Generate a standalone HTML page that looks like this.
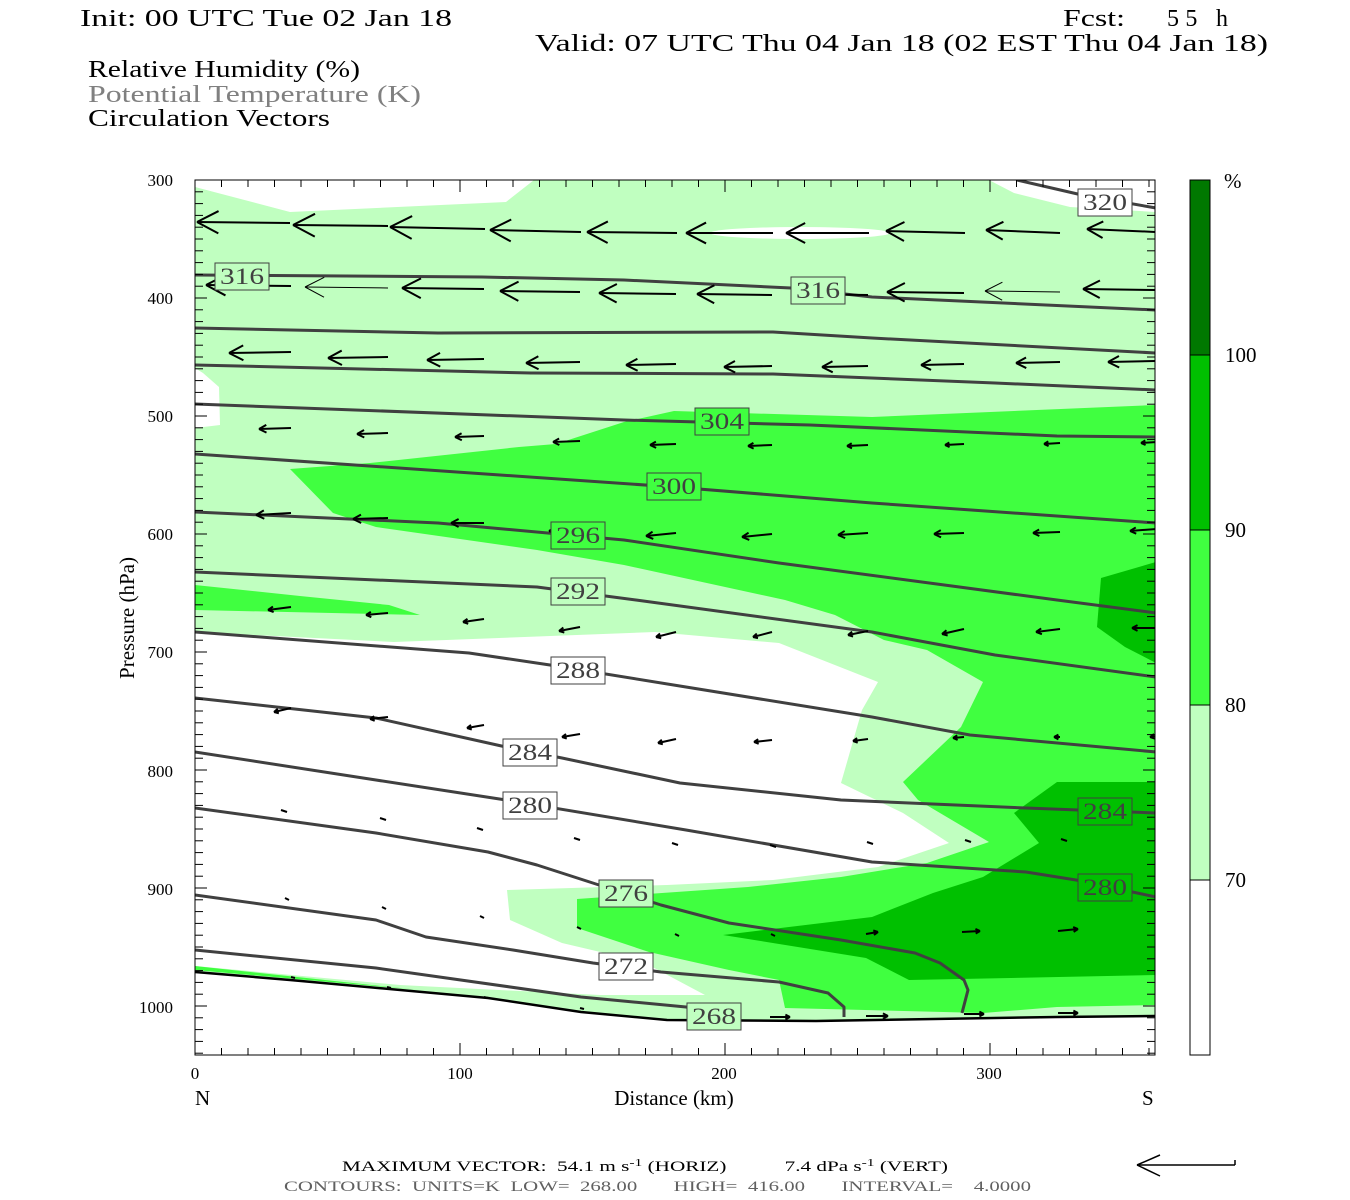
<!DOCTYPE html>
<html><head><meta charset="utf-8"><style>
html,body{margin:0;padding:0;background:#fff;}
svg{display:block;}
text{font-family:"Liberation Serif",serif;}
</style></head><body>
<svg id="s" width="1350" height="1200" viewBox="0 0 1350 1200" xmlns="http://www.w3.org/2000/svg">
<rect width="1350" height="1200" fill="#fff"/>
<g font-size="24" fill="#000">
<text x="80" y="26" textLength="372" lengthAdjust="spacingAndGlyphs">Init: 00 UTC Tue 02 Jan 18</text>
<text x="1063" y="26" textLength="62" lengthAdjust="spacingAndGlyphs">Fcst:</text>
<text x="1167" y="26" textLength="61" lengthAdjust="spacing">55 h</text>
<text x="535" y="51" textLength="733" lengthAdjust="spacingAndGlyphs">Valid: 07 UTC Thu 04 Jan 18 (02 EST Thu 04 Jan 18)</text>
<text x="88" y="77" textLength="272" lengthAdjust="spacingAndGlyphs">Relative Humidity (%)</text>
<text x="88" y="102" textLength="333" lengthAdjust="spacingAndGlyphs" fill="#808080">Potential Temperature (K)</text>
<text x="88" y="126" textLength="242" lengthAdjust="spacingAndGlyphs">Circulation Vectors</text>
</g>
<defs><clipPath id="pc"><rect x="195" y="180" width="960" height="875"/></clipPath></defs>
<g clip-path="url(#pc)">
<rect x="195" y="180" width="960" height="875" fill="#c0ffc0"/>
<g fill="#fff">
<polygon points="195,180 195,187 290,212 506,202 534,180"/>
<polygon points="989,180 1014,193 1070,207 1156,212 1156,180"/>
<ellipse cx="800" cy="233" rx="90" ry="6"/>
<polygon points="195,368 203,373 219,387 220,425 195,428"/>
<polygon points="195,632 394,642 655,632 779,643 878,682 862,710 841,783 903,813 949,843 878,867 773,880 667,885 507,890 510,920 562,943 643,962 705,995 600,995 400,985 195,966"/>
<polygon points="195,972 290,980 488,998 581,1012 667,1020 816,1021 1057,1017 1156,1016 1156,1056 195,1056"/>
</g>
<g fill="#40ff40">
<polygon points="1156,405 872,417 674,411 624,422 556,444 519,447 370,463 290,469 333,513 376,527 537,550 624,565 785,600 835,615 884,640 927,650 983,682 961,727 903,782 918,800 989,842 927,863 841,877 748,887 577,899 577,928 649,952 729,970 779,980 785,1008 983,1013 1057,1007 1156,1005"/>
<polygon points="195,585 300,596 389,605 420,615 195,610"/>
<polygon points="195,966 400,988 420,990 195,970"/>
</g>
<g fill="#00c000">
<polygon points="1101,578 1156,562 1156,663 1125,647 1097,627"/>
<polygon points="1057,782 1014,813 1039,843 983,877 933,893 872,917 723,935 804,948 866,958 909,980 1156,975 1156,782"/>
</g>
<g fill="none" stroke="#404040" stroke-width="3" stroke-linejoin="round">
<polyline points="1017,180 1082,195 1156,208"/>
<polyline points="195,275 482,277 624,280 791,288 872,297 1156,310"/>
<polyline points="195,328 438,333 773,332 872,338 1156,353"/>
<polyline points="195,365 531,373 773,374 995,383 1156,390"/>
<polyline points="195,404 624,420 810,425 1057,436 1156,437"/>
<polyline points="195,454 500,475 674,487 872,503 1156,523"/>
<polyline points="195,512 438,523 624,540 779,563 1057,600 1156,613"/>
<polyline points="195,572 537,587 636,600 872,632 995,655 1156,677"/>
<polyline points="195,632 469,653 550,665 686,687 872,717 970,735 1156,752"/>
<polyline points="195,698 376,718 506,747 562,758 680,783 841,800 1026,808 1156,813"/>
<polyline points="195,752 376,780 506,800 686,830 872,862 1026,872 1076,880 1156,897"/>
<polyline points="195,808 376,833 488,852 537,865 599,885 661,905 729,923 841,940 915,953 940,963 964,980 968,990 962,1013"/>
<polyline points="195,895 376,920 426,937 513,950 593,963 661,972 779,982 828,993 844,1007 844,1017"/>
<polyline points="195,950 376,968 581,997 686,1007 714,1016"/>
</g>
<polyline fill="none" stroke="#000" stroke-width="2.5" points="195,972 290,980 488,998 581,1012 667,1020 816,1021 1057,1017 1156,1016"/>
<g id="arrows" stroke="#000" fill="none" stroke-width="2"></g>
<g id="labs" font-size="23" fill="#404040" text-anchor="middle"></g>
</g>
<rect x="195" y="180" width="960" height="875" fill="none" stroke="#000" stroke-width="1"/>
<g id="ticks" stroke="#000" stroke-width="1"></g>
<g font-size="17" fill="#000" text-anchor="end">
<text x="173" y="186">300</text><text x="173" y="304">400</text><text x="173" y="422">500</text>
<text x="173" y="540">600</text><text x="173" y="658">700</text><text x="173" y="777">800</text>
<text x="173" y="895">900</text><text x="173" y="1013">1000</text>
</g>
<g font-size="17" fill="#000" text-anchor="middle">
<text x="195" y="1079">0</text><text x="460" y="1079">100</text><text x="724" y="1079">200</text><text x="989" y="1079">300</text>
</g>
<g font-size="21" fill="#000">
<text x="195" y="1105">N</text><text x="1142" y="1105">S</text>
<text x="674" y="1105" text-anchor="middle">Distance (km)</text>
<text transform="translate(134,618) rotate(-90)" text-anchor="middle">Pressure (hPa)</text>
</g>
<rect x="1190" y="880" width="20" height="175" fill="#fff" stroke="#000"/>
<rect x="1190" y="705" width="20" height="175" fill="#c0ffc0" stroke="#000"/>
<rect x="1190" y="530" width="20" height="175" fill="#40ff40" stroke="#000"/>
<rect x="1190" y="355" width="20" height="175" fill="#00c000" stroke="#000"/>
<rect x="1190" y="180" width="20" height="175" fill="#007800" stroke="#000"/>
<g font-size="21" fill="#000">
<text x="1224" y="188">%</text><text x="1225" y="362">100</text><text x="1225" y="537">90</text>
<text x="1225" y="712">80</text><text x="1225" y="887">70</text>
</g>
<text x="342" y="1171" font-size="15" fill="#000" textLength="606" lengthAdjust="spacingAndGlyphs" xml:space="preserve">MAXIMUM VECTOR:  54.1 m s<tspan dy="-5" font-size="11">-1</tspan><tspan dy="5"> (HORIZ)           7.4 dPa s</tspan><tspan dy="-5" font-size="11">-1</tspan><tspan dy="5"> (VERT)</tspan></text>
<text x="284" y="1191" font-size="15" fill="#606060" textLength="747" lengthAdjust="spacingAndGlyphs" xml:space="preserve">CONTOURS:  UNITS=K  LOW=  268.00       HIGH=  416.00       INTERVAL=    4.0000</text>
<g stroke="#000" stroke-width="1.5" fill="none">
<line x1="1137" y1="1165" x2="1235" y2="1165"/><line x1="1137" y1="1165" x2="1160" y2="1155"/><line x1="1137" y1="1165" x2="1160" y2="1176"/><line x1="1235" y1="1165" x2="1235" y2="1160"/>
</g>
</svg>
<script>
var NS="http://www.w3.org/2000/svg";
function el(p,t,a){var e=document.createElementNS(NS,t);for(var k in a)e.setAttribute(k,a[k]);p.appendChild(e);return e;}
var A=document.getElementById("arrows");
function arrow(hx,hy,tx,ty,sw){
 var dx=tx-hx,dy=ty-hy,len=Math.sqrt(dx*dx+dy*dy);if(len<0.1)return;
 var ux=dx/len,uy=dy/len,L=Math.max(5,Math.min(25,len*0.26));
 var s=sw||2;
 el(A,"line",{x1:tx,y1:ty,x2:hx,y2:hy,"stroke-width":s});
 var c=Math.cos(0.48),n=Math.sin(0.48);
 el(A,"line",{x1:hx,y1:hy,x2:hx+L*(ux*c-uy*n),y2:hy+L*(uy*c+ux*n),"stroke-width":s});
 el(A,"line",{x1:hx,y1:hy,x2:hx+L*(ux*c+uy*n),y2:hy+L*(uy*c-ux*n),"stroke-width":s});
}
var tails=[291,388,484,580,676,772,868,964,1060,1156];
var r1h=[197,293,390,490,587,686,786,886,986,1087],r1y=[222,225,227,230,232,233,233,231,230,229],r1t=[290,388,485,581,677,773,869,965,1060,1156],r1ty=[223,226,229,232,233,233,233,233,233,232];
for(var i=0;i<10;i++)arrow(r1h[i],r1y[i],r1t[i],r1ty[i],2);
var r2h=[206,305,402,500,599,697,793,887,985,1083],r2y=[285,287,288,291,293,294,294,292,291,289];
for(i=0;i<10;i++)arrow(r2h[i],r2y[i],tails[i],r2y[i]+1,(i==1||i==8)?1:2);
var r3h=[229,328,427,526,626,724,822,921,1016,1108],r3y=[353,358,360,363,365,367,367,365,363,362];
for(i=0;i<10;i++)arrow(r3h[i],r3y[i],tails[i],r3y[i]-1,2);
var r4h=[259,357,455,553,650,748,847,945,1044,1141],r4y=[429,434,437,442,445,446,446,445,444,443];
for(i=0;i<10;i++)arrow(r4h[i],r4y[i],tails[i],r4y[i]-1,2);
var r5h=[256,353,451,549,646,742,838,934,1033,1130],r5y=[515,519,523,531,536,537,535,534,533,531],r5t=[513,518,523,530,533,534,533,533,532,529];
for(i=0;i<10;i++)arrow(r5h[i],r5y[i],tails[i],r5t[i],2);
var r6h=[268,366,463,559,656,753,848,942,1036,1132],r6y=[610,615,622,631,637,637,635,634,632,628],r6t=[607,613,619,627,632,632,631,629,629,628];
for(i=0;i<10;i++)arrow(r6h[i],r6y[i],tails[i],r6t[i],2);
var r7h=[274,370,467,562,658,754,853,953,1054,1150],r7y=[712,719,728,737,743,742,741,738,737,737],r7t=[708,717,725,734,739,740,739,737,737,736];
for(i=0;i<10;i++)arrow(r7h[i],r7y[i],tails[i],r7t[i],2);
var r8x=[284,383,480,577,675,773,870,968,1064],r8y=[811,819,829,839,844,846,843,841,840];
for(i=0;i<9;i++){el(A,"line",{x1:r8x[i]-3,y1:r8y[i]-1,x2:r8x[i]+3,y2:r8y[i]+1,"stroke-width":2});}
var r9x=[287,384,482,579,677,773],r9y=[899,908,917,928,935,935];
for(i=0;i<6;i++){el(A,"line",{x1:r9x[i]-2,y1:r9y[i]-1,x2:r9x[i]+2,y2:r9y[i]+1,"stroke-width":2});}
arrow(878,932,866,934,2);arrow(980,931,962,932,2);arrow(1078,929,1058,931,2);
var r10x=[293,389,486,582],r10y=[977,987,997,1008];
for(i=0;i<4;i++){el(A,"line",{x1:r10x[i]-2,y1:r10y[i],x2:r10x[i]+2,y2:r10y[i]+1,"stroke-width":2});}
arrow(790,1017,770,1017,2);arrow(888,1016,866,1016,2);arrow(984,1014,964,1014,2);arrow(1078,1013,1058,1013,2);
var L=document.getElementById("labs");
var labs=[["320",1105,202,"#fff"],["316",242,276,"#c0ffc0"],["316",818,290,"#c0ffc0"],["304",722,421,"#40ff40"],["300",674,486,"#40ff40"],["296",578,535,"#40ff40"],["292",578,591,"#c0ffc0"],["288",578,670,"#fff"],["284",530,752,"#fff"],["280",530,805,"#fff"],["276",626,893,"#c0ffc0"],["272",626,966,"#fff"],["268",714,1016,"#c0ffc0"],["284",1105,811,"#00c000"],["280",1105,887,"#00c000"]];
labs.forEach(function(l){
 el(L,"rect",{x:l[1]-27,y:l[2]-13,width:54,height:27,fill:l[3],stroke:"#404040","stroke-width":1});
 var t=el(L,"text",{x:l[1],y:l[2]+8,textLength:44,lengthAdjust:"spacingAndGlyphs"});t.textContent=l[0];
});
var T=document.getElementById("ticks");
for(var k=0;k<=36;k++){var x=195+k*26.5;if(x>1155)break;var len=(k%10==0)?12:7;
 el(T,"line",{x1:x,y1:180,x2:x,y2:180+len});el(T,"line",{x1:x,y1:1055,x2:x,y2:1055-len});}
for(var p=300;p<=1040;p+=10){var y=180+(p-300)*1.18;var len=(p%100==0)?12:8;
 el(T,"line",{x1:195,y1:y,x2:195+len,y2:y});el(T,"line",{x1:1155,y1:y,x2:1155-len,y2:y});}
</script>
</body></html>
